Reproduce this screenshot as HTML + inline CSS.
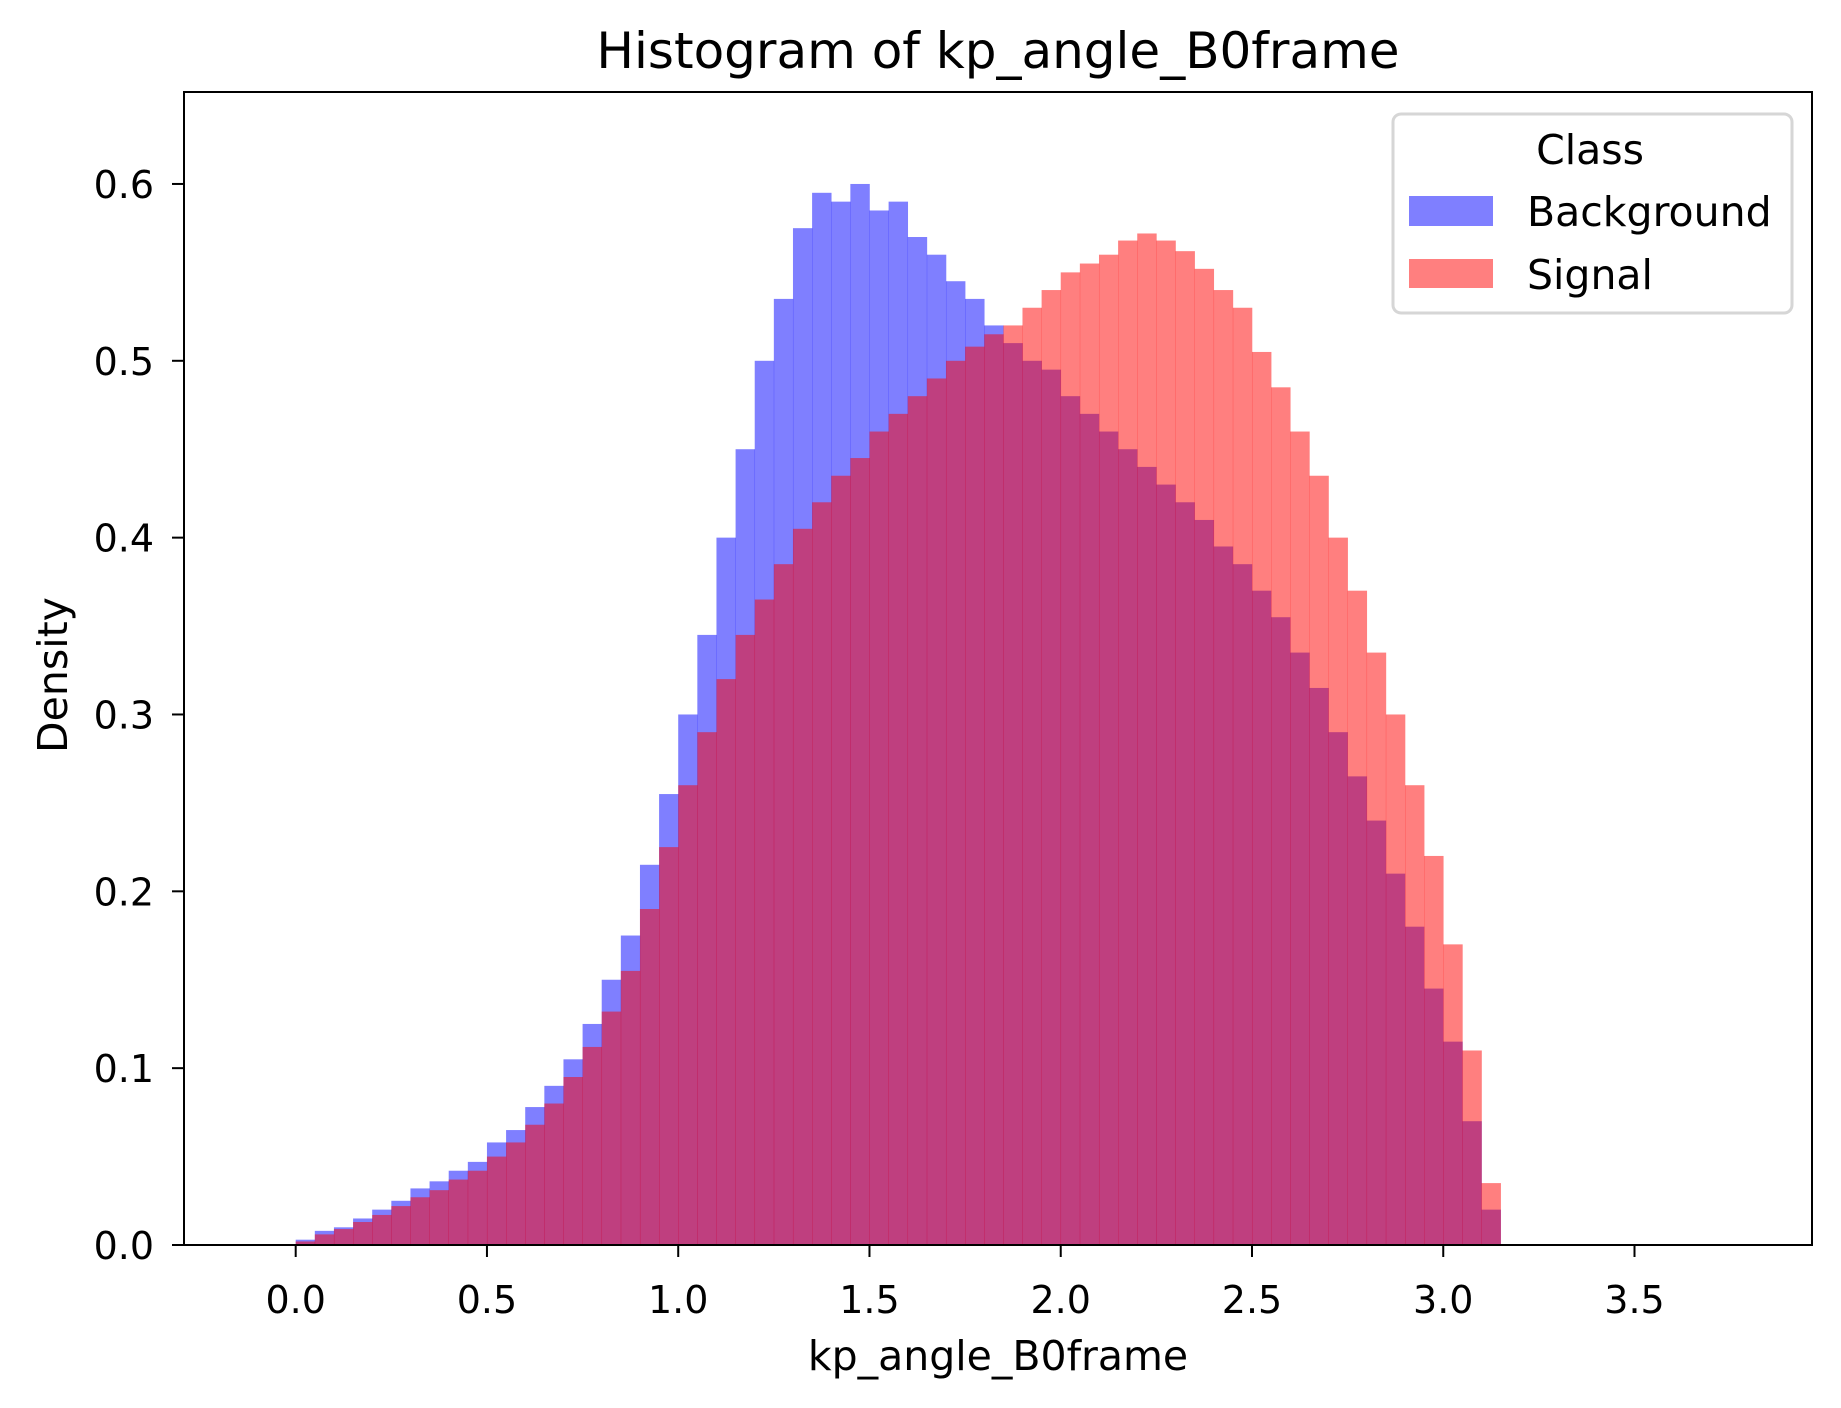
<!DOCTYPE html>
<html><head><meta charset="utf-8"><style>
html,body{margin:0;padding:0;background:#fff;}
svg{display:block;font-family:"DejaVu Sans","Liberation Sans",sans-serif;}
</style></head><body>
<svg id="chart" width="1841" height="1408" viewBox="0 0 1841 1408" xmlns="http://www.w3.org/2000/svg">
<rect width="1841" height="1408" fill="#fff"/>
<g id="bars"></g>
<g id="axes"></g>
<text x="998" y="68" font-size="50" text-anchor="middle">Histogram of kp_angle_B0frame</text>
<text x="998" y="1370" font-size="41" text-anchor="middle">kp_angle_B0frame</text>
<text x="0" y="0" font-size="41" text-anchor="middle" transform="translate(67,675) rotate(-90)">Density</text>
<g>
<rect x="1393" y="114" width="399" height="199" rx="8" fill="#fff" fill-opacity="0.8" stroke="#d6d6d6" stroke-width="3"/>
<text x="1590" y="164" font-size="41" text-anchor="middle">Class</text>
<rect x="1409" y="196" width="84" height="30" fill="#0000ff" fill-opacity="0.5"/>
<text x="1527" y="226" font-size="41">Background</text>
<rect x="1409" y="259" width="84" height="29" fill="#ff0000" fill-opacity="0.5"/>
<text x="1527" y="289" font-size="41">Signal</text>
</g>
</svg>
<script>
const binStart = 0.0;
const binWidth = 0.05;
const backgroundValues = [0.003,0.008,0.010,0.015,0.020,0.025,0.032,0.036,0.042,0.047,0.058,0.065,0.078,0.090,0.105,0.125,0.150,0.175,0.215,0.255,0.300,0.345,0.400,0.450,0.500,0.535,0.575,0.595,0.590,0.600,0.585,0.590,0.570,0.560,0.545,0.535,0.520,0.510,0.500,0.495,0.480,0.470,0.460,0.450,0.440,0.430,0.420,0.410,0.395,0.385,0.370,0.355,0.335,0.315,0.290,0.265,0.240,0.210,0.180,0.145,0.115,0.070,0.020];
const signalValues = [0.002,0.006,0.009,0.013,0.017,0.022,0.027,0.031,0.037,0.042,0.050,0.058,0.068,0.080,0.095,0.112,0.132,0.155,0.190,0.225,0.260,0.290,0.320,0.345,0.365,0.385,0.405,0.420,0.435,0.445,0.460,0.470,0.480,0.490,0.500,0.508,0.515,0.520,0.530,0.540,0.550,0.555,0.560,0.568,0.572,0.568,0.562,0.552,0.540,0.530,0.505,0.485,0.460,0.435,0.400,0.370,0.335,0.300,0.260,0.220,0.170,0.110,0.035];
const xTicks = [0.0,0.5,1.0,1.5,2.0,2.5,3.0,3.5];
const xTickLabels = ["0.0","0.5","1.0","1.5","2.0","2.5","3.0","3.5"];
const yTicks = [0.0,0.1,0.2,0.3,0.4,0.5,0.6];
const yTickLabels = ["0.0","0.1","0.2","0.3","0.4","0.5","0.6"];

const NS = "http://www.w3.org/2000/svg";
const L = 184, R = 1812, T = 92, B = 1245;
const xMin = -0.292, xMax = 3.964, yMin = 0, yMax = 0.652;
function xs(v){ return L + (v - xMin) / (xMax - xMin) * (R - L); }
function ys(v){ return B - (v - yMin) / (yMax - yMin) * (B - T); }

const barsG = document.getElementById('bars');
function drawSeries(vals, color, name){
  vals.forEach((v, i) => {
    const x0 = xs(binStart + i * binWidth), x1 = xs(binStart + (i + 1) * binWidth);
    const r = document.createElementNS(NS, 'rect');
    r.setAttribute('x', x0);
    r.setAttribute('y', ys(v));
    r.setAttribute('width', x1 - x0 + 0.3);
    r.setAttribute('height', ys(0) - ys(v));
    r.setAttribute('fill', color);
    r.setAttribute('fill-opacity', '0.5');
    
    
    barsG.appendChild(r);
  });
}
drawSeries(backgroundValues, '#0000ff', 'background');
drawSeries(signalValues, '#ff0000', 'signal');

const ax = document.getElementById('axes');
const frame = document.createElementNS(NS, 'rect');
frame.setAttribute('x', L); frame.setAttribute('y', T);
frame.setAttribute('width', R - L); frame.setAttribute('height', B - T);
frame.setAttribute('fill', 'none'); frame.setAttribute('stroke', '#000'); frame.setAttribute('stroke-width', '2');


ax.appendChild(frame);

xTicks.forEach((t, i) => {
  const x = xs(t);
  const ln = document.createElementNS(NS, 'line');
  ln.setAttribute('x1', x); ln.setAttribute('x2', x);
  ln.setAttribute('y1', B); ln.setAttribute('y2', B + 12);
  ln.setAttribute('stroke', '#000'); ln.setAttribute('stroke-width', '2');
  
  
  ax.appendChild(ln);
  const tx = document.createElementNS(NS, 'text');
  tx.setAttribute('x', x); tx.setAttribute('y', B + 68);
  tx.setAttribute('font-size', '38'); tx.setAttribute('text-anchor', 'middle');
  tx.textContent = xTickLabels[i];
  
  
  ax.appendChild(tx);
});
yTicks.forEach((t, i) => {
  const y = ys(t);
  const ln = document.createElementNS(NS, 'line');
  ln.setAttribute('x1', L - 12); ln.setAttribute('x2', L);
  ln.setAttribute('y1', y); ln.setAttribute('y2', y);
  ln.setAttribute('stroke', '#000'); ln.setAttribute('stroke-width', '2');
  
  
  ax.appendChild(ln);
  const tx = document.createElementNS(NS, 'text');
  tx.setAttribute('x', L - 30); tx.setAttribute('y', y + 14);
  tx.setAttribute('font-size', '38'); tx.setAttribute('text-anchor', 'end');
  tx.textContent = yTickLabels[i];
  
  
  ax.appendChild(tx);
});
</script>
</body></html>
